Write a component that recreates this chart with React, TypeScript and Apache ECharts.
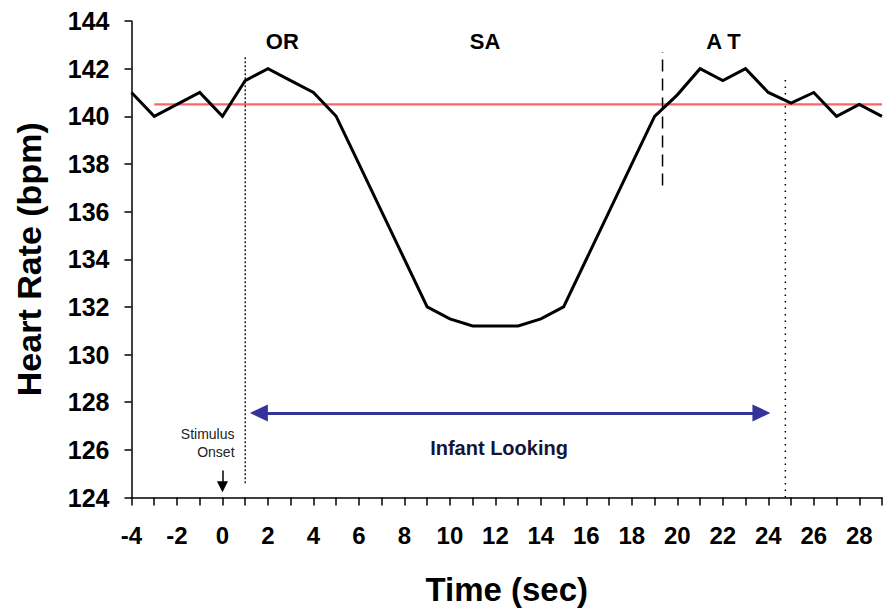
import React, { useEffect, useRef } from "react";
import * as echarts from "echarts";

// ---- data ----
const timeSec = [-4, -3, -2, -1, 0, 1, 2, 3, 4, 5, 6, 7, 8, 9, 10, 11, 12, 13, 14, 15, 16, 17, 18, 19, 20, 21, 22, 23, 24, 25, 26, 27, 28, 29];
const heartRate = [141, 140, 140.5, 141, 140, 141.5, 142, 141.5, 141, 140, 138, 136, 134, 132, 131.5, 131.2, 131.2, 131.2, 131.5, 132, 134, 136, 138, 140, 140.9, 142, 141.5, 142, 141, 140.55, 141, 140, 140.5, 140];
const baselineHR = 140.5;
const baselineRange = [-3, 29];
const xTicks = { min: -4, max: 29, step: 1 };
const yTicks = { min: 124, max: 144, step: 2 };

// phase boundaries (time, from-HR, to-HR)
const onsetLookX = 1.0;
const onsetLookRange = [124.6, 142.5];
const attEndX = 19.35;
const attEndRange = [137.1, 142.7];
const lookEndX = 24.75;
const lookEndRange = [124.0, 141.6];

// annotations (arrow-head centres)
const lookingArrow = { from: 1.6, to: 23.7, hr: 127.55 };
const stimArrow = { x: 0, from: 125.13, to: 124.45 };
const phaseLabels = [
  { name: "OR", x: 2.63, y: 143.14 },
  { name: "SA", x: 11.55, y: 143.14 },
  { name: "A T", x: 22.03, y: 143.14 },
];
const stimLabel = { name: "Stimulus\nOnset", x: 0.53, y: 126.29 };
const lookLabel = { name: "Infant Looking", x: 12.16, y: 126.07 };

const FONT = "Arial, 'Liberation Sans', sans-serif";

export default function App() {
  const ref = useRef<HTMLDivElement>(null);
  useEffect(() => {
    if (!ref.current) return;
    const chart = echarts.init(ref.current, undefined, { renderer: "svg" });
    const hrData = timeSec.map((t, i) => [t, heartRate[i]]);
    const hiddenItem = { color: "rgba(0,0,0,0)", opacity: 1 };
    const option: any = {
      animation: false,
      backgroundColor: "#ffffff",
      grid: { left: 131.5, right: 1.7, top: 21, bottom: 118.5, containLabel: false },
      xAxis: {
        type: "value",
        min: xTicks.min,
        max: xTicks.max,
        interval: xTicks.step,
        name: "Time (sec)",
        nameLocation: "middle",
        nameGap: 75,
        nameTextStyle: { fontFamily: FONT, fontWeight: "bold", fontSize: 33, color: "#000" },
        axisLine: { show: true, onZero: false, lineStyle: { color: "#000", width: 1.5 } },
        axisTick: { show: true, length: 8, lineStyle: { color: "#000", width: 1.5 } },
        axisLabel: {
          margin: 26,
          fontFamily: FONT,
          fontWeight: "bold",
          fontSize: 24,
          color: "#000",
          formatter: (v: number) => (v % 2 === 0 ? String(v) : ""),
        },
        splitLine: { show: false },
      },
      yAxis: {
        type: "value",
        min: yTicks.min,
        max: yTicks.max,
        interval: yTicks.step,
        name: "Heart Rate (bpm)",
        nameLocation: "middle",
        nameGap: 86,
        nameTextStyle: { fontFamily: FONT, fontWeight: "bold", fontSize: 34, color: "#000" },
        axisLine: { show: true, onZero: false, lineStyle: { color: "#000", width: 1.5 } },
        axisTick: { show: true, length: 7, lineStyle: { color: "#000", width: 1.5 } },
        axisLabel: { margin: 22, fontFamily: FONT, fontWeight: "bold", fontSize: 25, color: "#000" },
        splitLine: { show: false },
      },
      series: [
        {
          type: "line",
          name: "baseline",
          data: [[baselineRange[0], baselineHR], [baselineRange[1], baselineHR]],
          symbol: "none",
          lineStyle: { color: "#ff6464", width: 2.2 },
          z: 2,
        },
        {
          type: "line",
          name: "onset",
          data: [[onsetLookX, onsetLookRange[0]], [onsetLookX, onsetLookRange[1]]],
          symbol: "none",
          lineStyle: { color: "#000", width: 1.3, type: [2, 2] },
          z: 2,
        },
        {
          type: "line",
          name: "attEnd",
          data: [[attEndX, attEndRange[0]], [attEndX, attEndRange[1]]],
          symbol: "none",
          lineStyle: { color: "#000", width: 1.5, type: [12, 7] },
          z: 2,
        },
        {
          type: "line",
          name: "lookEnd",
          data: [[lookEndX, lookEndRange[0]], [lookEndX, lookEndRange[1]]],
          symbol: "none",
          lineStyle: { color: "#000", width: 1.5, type: [1.5, 5] },
          z: 2,
        },
        {
          type: "line",
          name: "Heart Rate",
          data: hrData,
          symbol: "none",
          lineStyle: { color: "#000", width: 3, join: "miter" },
          z: 3,
          markLine: {
            silent: true,
            symbol: ["triangle", "triangle"],
            symbolSize: [17, 18],
            label: { show: false },
            animation: false,
            data: [
              [
                { coord: [lookingArrow.from, lookingArrow.hr], symbol: "triangle", symbolSize: [17, 18], lineStyle: { color: "#333399", width: 3, type: "solid" } },
                { coord: [lookingArrow.to, lookingArrow.hr], symbol: "triangle", symbolSize: [17, 18] },
              ],
              [
                { coord: [stimArrow.x, stimArrow.from], symbol: "none", lineStyle: { color: "#000", width: 1.5, type: "solid" } },
                { coord: [stimArrow.x, stimArrow.to], symbol: "triangle", symbolSize: [11, 11] },
              ],
            ],
          },
        },
        {
          type: "scatter",
          name: "phaseLabels",
          data: phaseLabels.map((p) => ({ name: p.name, value: [p.x, p.y] })),
          symbolSize: 0,
          itemStyle: hiddenItem,
          label: {
            show: true,
            position: "inside",
            formatter: "{b}",
            fontFamily: FONT,
            fontWeight: "bold",
            fontSize: 22,
            color: "#000",
            opacity: 1,
          },
          z: 4,
        },
        {
          type: "scatter",
          name: "stimLabel",
          data: [{ name: stimLabel.name, value: [stimLabel.x, stimLabel.y] }],
          symbolSize: 0,
          itemStyle: hiddenItem,
          label: {
            show: true,
            position: "left",
            distance: 0,
            align: "right",
            formatter: "{b}",
            fontFamily: FONT,
            fontSize: 14,
            lineHeight: 18,
            color: "#222",
            opacity: 1,
          },
          z: 4,
        },
        {
          type: "scatter",
          name: "lookLabel",
          data: [{ name: lookLabel.name, value: [lookLabel.x, lookLabel.y] }],
          symbolSize: 0,
          itemStyle: hiddenItem,
          label: {
            show: true,
            position: "inside",
            formatter: "{b}",
            fontFamily: FONT,
            fontWeight: "bold",
            fontSize: 20,
            color: "#15153a",
            opacity: 1,
          },
          z: 4,
        },
      ],
    };
    chart.setOption(option);
    return () => chart.dispose();
  }, []);
  return <div ref={ref} style={{ width: 885, height: 616, position: "absolute", left: 0, top: 0 }} />;
}
